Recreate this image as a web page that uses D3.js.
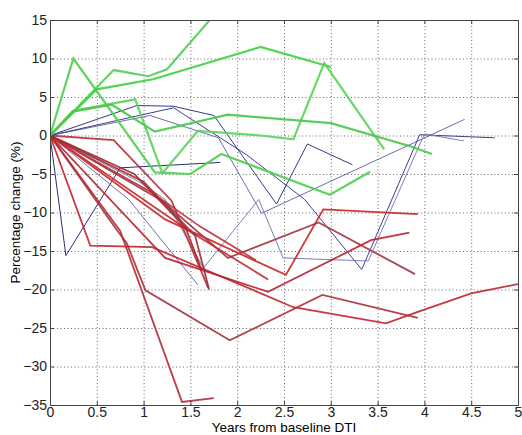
<!DOCTYPE html>
<html>
<head>
<meta charset="utf-8">
<script src="https://cdn.jsdelivr.net/npm/d3@7"></script>
<style>
  body { margin: 0; background: #fff; }
  svg { font-family: "Liberation Sans", Arial, sans-serif; }
  .grid line { stroke: #000; stroke-dasharray: 1,2.5; stroke-width: 0.8; opacity: 0.75; }
  .grid path { display: none; }
  .axis text { font-size: 14px; fill: #222; }
  .axis path, .axis line { stroke: #444; }
</style>
</head>
<body>
<div id="chart"></div>
<script>
// x ticks / y ticks
var xTicks = [0, 0.5, 1, 1.5, 2, 2.5, 3, 3.5, 4, 4.5, 5];
var yTicks = [15, 10, 5, 0, -5, -10, -15, -20, -25, -30, -35];

// subjects whose FA increased (green) - [years, % change]
var green1 = [[0,0],[0.25,10],[1.12,-4.8],[1.5,-5],[1.83,-2.4],[2.99,-7.7],[3.42,-4.7]];
var green2 = [[0,0],[0.68,8.5],[1.05,7.7],[1.25,8.6],[1.75,15.6]];
var green3 = [[0,0],[0.5,6],[1.1,7.3],[2.25,11.5],[3.0,8.9]];
var green4 = [[0,0],[0.25,3.2],[0.91,4.7],[1.2,-4.9],[1.58,0.6],[2.25,0],[2.6,-0.5],[2.93,9.4],[3.57,-1.8]];
var green5 = [[0,0],[0.24,3.1],[0.66,4.0],[1.12,0.5],[1.9,2.7],[3.0,1.6],[3.85,-1.4],[4.08,-2.4]];

// subjects with little change (blue)
var blue1 = [[0,0],[0.17,-15.6],[0.75,-4.2],[1.82,-3.5]];
var blue2 = [[0,0],[0.93,3.9],[1.32,3.8],[1.75,2.6],[2.42,-8.9],[2.75,-1.1],[3.23,-3.8]];
var blue3 = [[0,0],[1.07,2.6],[1.8,-0.3],[2.26,-10.1],[4.43,2.1]];
var blue4 = [[0,0],[1.32,3.6],[2.1,-2.5],[2.72,-8.3],[3.33,-17.4],[3.95,0.1],[4.75,-0.3]];
var blue5 = [[0,0],[0.95,-6],[1.23,-8.3],[1.64,-17.2],[2.23,-8.3],[2.49,-15.9],[3.4,-16.3],[4.0,0.2],[4.42,-0.7]];
var blue6 = [[0,0],[0.84,-8.3],[1.58,-19.4]];

// subjects whose FA decreased (red)
var red1 = [[0,0],[0.43,-14.3],[1.09,-14.5],[2.6,-22.3],[3.59,-24.4],[3.93,-22.9],[4.5,-20.5],[5.0,-19.3]];
var red2 = [[0,0],[0.75,-12.4],[1.41,-34.6],[1.75,-34.1]];
var red3 = [[0,0],[0.71,-12.2],[0.82,-14],[1.02,-20.1],[1.92,-26.6],[2.91,-20.7],[3.93,-23.7]];
var red4 = [[0,0],[1.23,-10.9],[2.52,-18.1],[2.92,-9.6],[3.93,-10.2]];
var red5 = [[0,0],[1.23,-15.9],[2.33,-20.3],[3.43,-13.6],[3.84,-12.6]];
var red6 = [[0,0],[1.2,-8.5],[1.9,-15.9],[2.87,-11.3],[3.9,-18]];
var red7 = [[0,0],[0.68,-0.6],[1.3,-8.5],[1.69,-19.8]];
var red8 = [[0,0],[1.5,-12.5],[2.33,-18.7]];
var red9 = [[0,0],[1.0,-6],[1.55,-13],[1.7,-20]];
var red10 = [[0,0],[1.1,-7.5],[1.6,-11.8],[2.2,-16.2]];
var red11 = [[0,0],[0.9,-5],[1.45,-12],[1.62,-17.5]];

var greens = [green1, green2, green3, green4, green5];
var blues = [blue1, blue2, blue3, blue4, blue5, blue6];
var reds = [red1, red2, red3, red4, red5, red6, red7, red8, red9, red10, red11];

var greenCols = ["#4ccf4c", "#55cc55", "#3fcf3f", "#5ad35a", "#47c847"];
var blueCols = ["#2a2f7a", "#333a86", "#6a6fa6", "#3c4090", "#7c80b0", "#6e72a8"];
var redCols = ["#c0242c", "#b22a35", "#a8303a", "#cc2222", "#b82030", "#a03440", "#b43038", "#c02a30", "#9c2c38", "#b8323c", "#aa2430"];

var margin = { top: 20, right: 4, bottom: 30, left: 50 },
    width = 522 - margin.left - margin.right,
    height = 435 - margin.top - margin.bottom;

var svg = d3.select("#chart")
    .append("svg")
    .attr("width", 522)
    .attr("height", 435)
    .append("g")
    .attr("transform", "translate(" + margin.left + "," + margin.top + ")");

var x = d3.scaleLinear().domain([0, 5]).range([0, width]);
var y = d3.scaleLinear().domain([-35, 15]).range([height, 0]);

// dotted grid
svg.append("g")
    .attr("class", "grid")
    .attr("transform", "translate(0," + height + ")")
    .call(d3.axisBottom(x).tickValues(xTicks).tickSize(-height).tickFormat(""));

svg.append("g")
    .attr("class", "grid")
    .call(d3.axisLeft(y).tickValues(yTicks).tickSize(-width).tickFormat(""));

svg.append("defs").append("clipPath")
    .attr("id", "clip")
    .append("rect")
    .attr("width", width)
    .attr("height", height);

var line = d3.line()
    .x(function(d) { return x(d[0]); })
    .y(function(d) { return y(d[1]); });

var plot = svg.append("g").attr("clip-path", "url(#clip)");

plot.selectAll(".blue")
    .data(blues)
    .enter()
    .append("path")
    .attr("d", line)
    .attr("fill", "none")
    .attr("stroke", function(d, i) { return blueCols[i]; })
    .attr("stroke-width", 1);

plot.selectAll(".red")
    .data(reds)
    .enter()
    .append("path")
    .attr("d", line)
    .attr("fill", "none")
    .attr("stroke", function(d, i) { return redCols[i]; })
    .attr("stroke-width", 1.8)
    .attr("stroke-opacity", 0.9);

plot.selectAll(".green")
    .data(greens)
    .enter()
    .append("path")
    .attr("d", line)
    .attr("fill", "none")
    .attr("stroke", function(d, i) { return greenCols[i]; })
    .attr("stroke-width", 2.2)
    .attr("stroke-opacity", 0.9);

// axes with inward ticks (box on)
svg.append("g")
    .attr("class", "axis")
    .attr("transform", "translate(0," + height + ")")
    .call(d3.axisBottom(x).tickValues(xTicks).tickSize(-4).tickPadding(2)
        .tickFormat(function(d) { return d; }));

svg.append("g")
    .attr("class", "axis")
    .call(d3.axisLeft(y).tickValues(yTicks).tickSize(-4).tickPadding(3));

svg.append("g")
    .attr("class", "axis")
    .call(d3.axisTop(x).tickValues(xTicks).tickSize(-4).tickFormat(""));

svg.append("g")
    .attr("class", "axis")
    .attr("transform", "translate(" + width + ",0)")
    .call(d3.axisRight(y).tickValues(yTicks).tickSize(-4).tickFormat(""));

svg.append("text")
    .attr("x", width / 2)
    .attr("y", height + 27)
    .attr("text-anchor", "middle")
    .style("font-size", "13.5px")
    .text("Years from baseline DTI");

svg.append("text")
    .attr("transform", "rotate(-90)")
    .attr("x", -height / 2)
    .attr("y", -30)
    .attr("text-anchor", "middle")
    .style("font-size", "13.5px")
    .text("Percentage change (%)");
</script>
</body>
</html>
